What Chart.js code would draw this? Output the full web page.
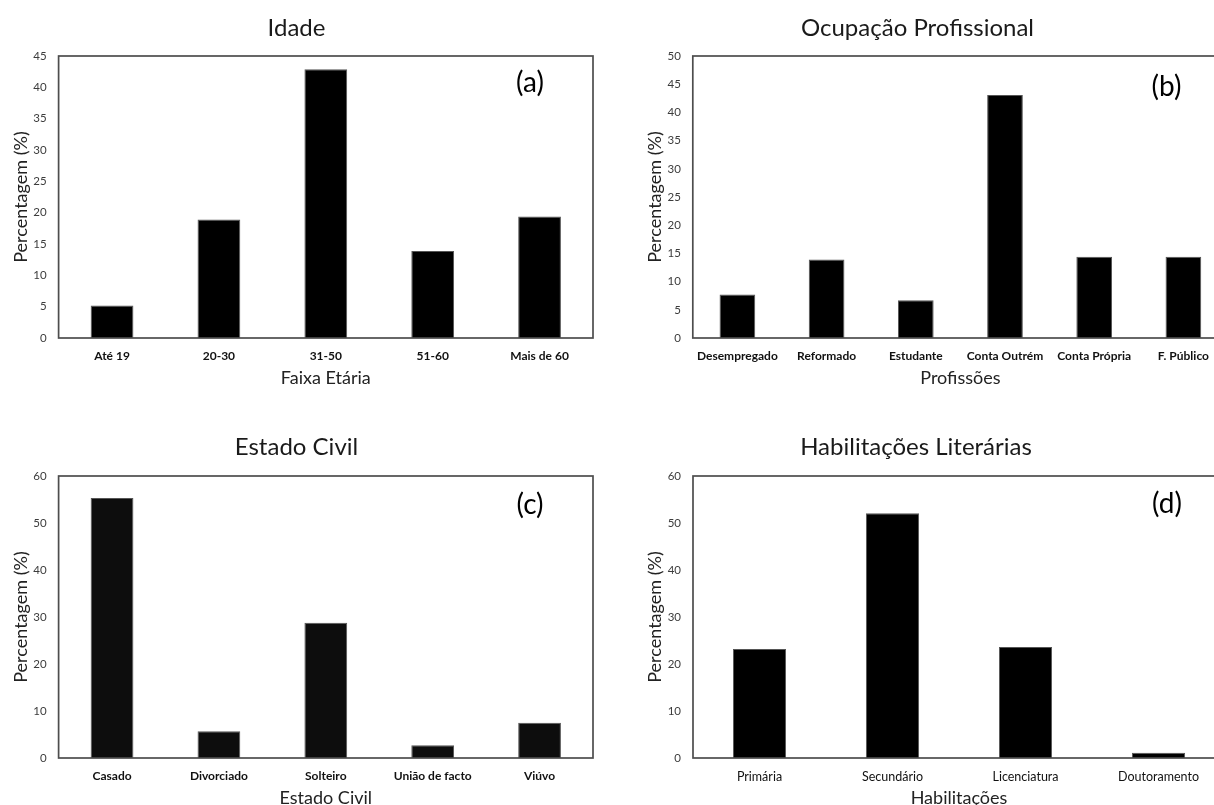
<!DOCTYPE html>
<html>
<head>
<meta charset="utf-8">
<script src="https://cdn.jsdelivr.net/npm/chart.js@4.4.1/dist/chart.umd.min.js"></script>
<style>
  html, body { margin: 0; padding: 0; background: #fff; overflow: hidden; width: 1214px; height: 805px; position: relative; }
  canvas { position: absolute; }
</style>
</head>
<body>
<canvas id="idade" width="600" height="400" style="left:0;top:0"></canvas>
<canvas id="ocupacao" width="621" height="400" style="left:607px;top:0"></canvas>
<canvas id="civil" width="600" height="410" style="left:0;top:400px"></canvas>
<canvas id="habil" width="621" height="410" style="left:607px;top:400px"></canvas>
<script>
// (a) Idade
const idadeLabels = ['Até 19', '20-30', '31-50', '51-60', 'Mais de 60'];
const idadeValues = [5.2, 18.9, 42.9, 13.9, 19.4];
const idadeMax = 45, idadeStep = 5;

// (b) Ocupação Profissional
const ocupLabels = ['Desempregado', 'Reformado', 'Estudante', 'Conta Outrém', 'Conta Própria', 'F. Público'];
const ocupValues = [7.7, 13.9, 6.7, 43.1, 14.4, 14.4];
const ocupMax = 50, ocupStep = 5;

// (c) Estado Civil
const civilLabels = ['Casado', 'Divorciado', 'Solteiro', 'União de facto', 'Viúvo'];
const civilValues = [55.3, 5.7, 28.8, 2.7, 7.5];
const civilMax = 60, civilStep = 10;

// (d) Habilitações Literárias
const habilLabels = ['Primária', 'Secundário', 'Licenciatura', 'Doutoramento'];
const habilValues = [23.2, 52.1, 23.6, 1.1];
const habilMax = 60, habilStep = 10;

const FONT = 'Lato, "Open Sans", sans-serif';

// moldura da área do gráfico + letra do painel
const frame = {
  id: 'frame',
  afterDatasetsDraw(chart, args, opts) {
    const { ctx, chartArea: a } = chart;
    ctx.save();
    ctx.strokeStyle = '#4d4d4d';
    ctx.lineWidth = 1.7;
    ctx.strokeRect(a.left, a.top, a.right - a.left, a.bottom - a.top);
    ctx.font = '28px ' + FONT;
    ctx.fillStyle = '#000';
    ctx.textAlign = 'center';
    ctx.textBaseline = 'middle';
    ctx.fillText(opts.text, a.right - opts.dx, a.top + opts.dy);
    ctx.restore();
  }
};

function makeChart(id, p) {
  const low = p.bottomRow;
  return new Chart(document.getElementById(id), {
    type: 'bar',
    data: {
      labels: p.labels,
      datasets: [{
        data: p.values,
        backgroundColor: p.color || '#000',
        borderColor: '#555',
        borderWidth: 1,
        barPercentage: 1,
        categoryPercentage: 0.4
      }]
    },
    options: {
      responsive: false,
      animation: false,
      events: [],
      layout: { padding: { left: 0, right: p.padRight, top: 0, bottom: 0 } },
      plugins: {
        legend: { display: false },
        tooltip: { enabled: false },
        title: {
          display: true,
          text: p.title,
          color: '#1a1a1a',
          font: { family: FONT, size: 24, weight: 'normal' },
          padding: low ? { top: 32.6, bottom: 14.6 } : { top: 13.6, bottom: 13.6 }
        },
        frame: { text: p.tag, dx: p.tagDx, dy: p.tagDy }
      },
      scales: {
        x: {
          grid: { display: false, drawTicks: false },
          border: { display: false },
          ticks: {
            color: '#111',
            padding: 11,
            maxRotation: 0,
            autoSkip: false,
            font: { family: FONT, size: p.boldTicks ? 12 : 12.5, weight: p.boldTicks ? 'bold' : 'normal' }
          },
          title: {
            display: true,
            text: p.xTitle,
            color: '#222',
            font: { family: FONT, size: 18 },
            padding: { top: 0, bottom: low ? 1.2 : 11.2 }
          },
          afterFit(s) { s.height = low ? 52 : 62; }
        },
        y: {
          min: 0,
          max: p.max,
          grid: { display: false, drawTicks: false },
          border: { display: false },
          ticks: {
            stepSize: p.step,
            color: '#3c3c3c',
            padding: 12,
            font: { family: FONT, size: 11.5 }
          },
          title: {
            display: true,
            text: 'Percentagem (%)',
            color: '#222',
            font: { family: FONT, size: 18 },
            padding: { top: p.yTitlePad, bottom: 0 }
          },
          afterFit(s) { s.width = p.yWidth; }
        }
      }
    },
    plugins: [frame]
  });
}

makeChart('idade', {
  labels: idadeLabels, values: idadeValues, max: idadeMax, step: idadeStep,
  title: 'Idade', xTitle: 'Faixa Etária', tag: '(a)', tagDx: 63, tagDy: 27,
  yWidth: 58.6, yTitlePad: 10.2, padRight: 7, boldTicks: true, bottomRow: false
});

makeChart('ocupacao', {
  labels: ocupLabels, values: ocupValues, max: ocupMax, step: ocupStep,
  title: 'Ocupação Profissional', xTitle: 'Profissões', tag: '(b)', tagDx: 61.5, tagDy: 31,
  yWidth: 85.8, yTitlePad: 37.2, padRight: 0, boldTicks: true, bottomRow: false
});

makeChart('civil', {
  labels: civilLabels, values: civilValues, max: civilMax, step: civilStep,
  title: 'Estado Civil', xTitle: 'Estado Civil', tag: '(c)', tagDx: 63, tagDy: 29,
  yWidth: 58.6, yTitlePad: 10.2, padRight: 7, boldTicks: true, bottomRow: true,
  color: '#0d0d0d'
});

makeChart('habil', {
  labels: habilLabels, values: habilValues, max: habilMax, step: habilStep,
  title: 'Habilitações Literárias', xTitle: 'Habilitações', tag: '(d)', tagDx: 58, tagDy: 28,
  yWidth: 86, yTitlePad: 37.2, padRight: 3, boldTicks: false, bottomRow: true
});
</script>
</body>
</html>
